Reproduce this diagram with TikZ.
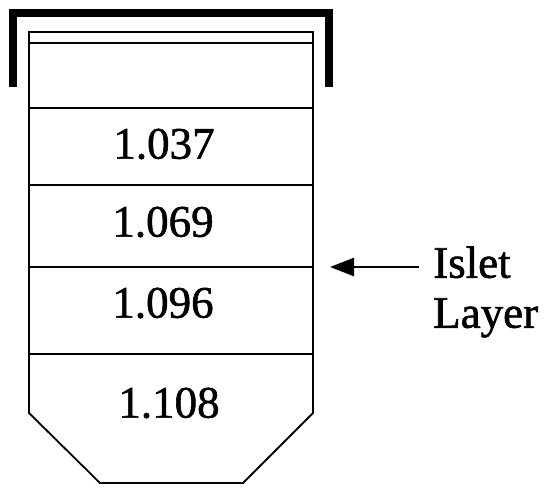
\documentclass[tikz,border=0pt]{standalone}
\usepackage{fontspec}
\setmainfont{Liberation Serif}
\newfontfamily\heavyserif{Liberation Serif}[FakeBold=1.3]
\usetikzlibrary{arrows.meta}
\begin{document}
\begin{tikzpicture}[x=1pt,y=-1pt,
  wall/.style={line width=1.8pt, line join=miter},
  density/.style={font=\heavyserif\fontsize{45}{48}\selectfont, inner sep=0pt},
  lbl/.style={font=\heavyserif\fontsize{45}{50}\selectfont, inner sep=0pt, align=left, anchor=west}]
  \useasboundingbox (0,0) rectangle (551,495);
  % cap over the tube
  \draw[line width=8pt, line cap=butt, line join=miter] (13,87) -- (13,13) -- (329,13) -- (329,87);
  % tube outline with tapered bottom
  \draw[wall] (29,32) -- (313,32) -- (313,413) -- (243,483) -- (100,483) -- (29,413) -- cycle;
  \draw[wall] (29,43) -- (313,43);
  % gradient layer boundaries
  \coordinate (l1) at (29,108); \coordinate (r1) at (313,108);
  \coordinate (l2) at (29,185); \coordinate (r2) at (313,185);
  \coordinate (l3) at (29,267); \coordinate (r3) at (313,267);
  \coordinate (l4) at (29,354); \coordinate (r4) at (313,354);
  \draw[wall] (l1) -- (r1) (l2) -- (r2) (l3) -- (r3) (l4) -- (r4);
  % densities
  \node[density] (d1) at (164,144) {1.037};
  \node[density] (d2) at (163,222) {1.069};
  \node[density] (d3) at (163,303) {1.096};
  \node[density] (d4) at (169,403) {1.108};
  % label and pointer
  \node[lbl] (islet) at (433,292) {Islet\\Layer};
  \coordinate (tail) at (419,267);
  \coordinate (tip) at (330,267);
  \draw[line width=2.6pt, -{Triangle[length=24pt,width=18pt]}] (tail) -- (tip);
\end{tikzpicture}
\end{document}
